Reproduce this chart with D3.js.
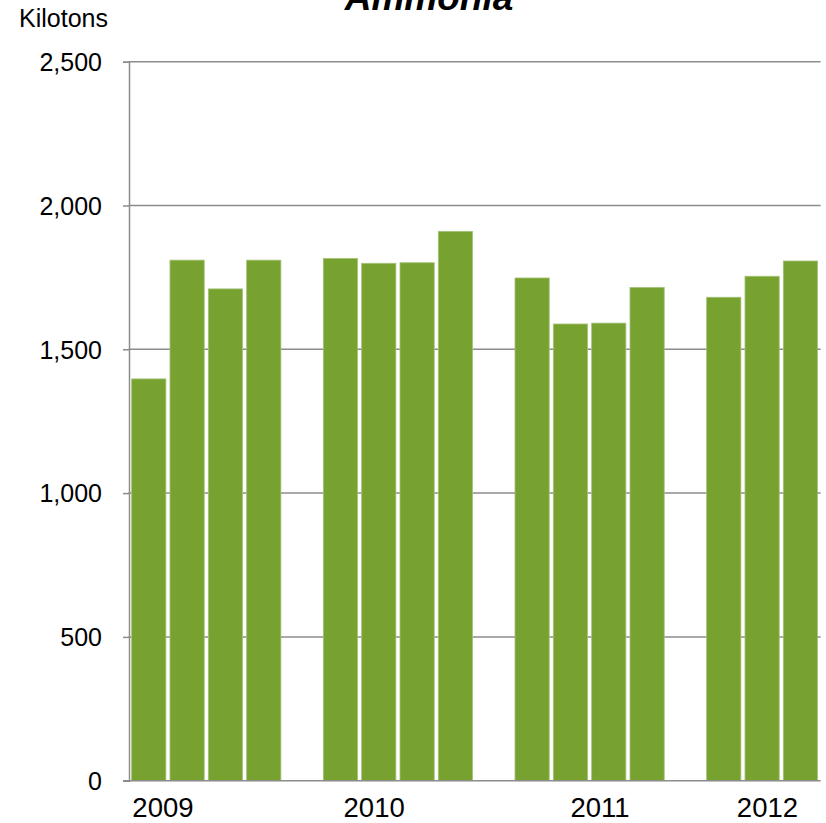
<!DOCTYPE html>
<html>
<head>
<meta charset="utf-8">
<script src="https://cdn.jsdelivr.net/npm/d3@7/dist/d3.min.js"></script>
<style>
  html, body { margin: 0; padding: 0; background: #fff; }
  svg { display: block; font-family: "Liberation Sans", Arial, sans-serif; }
</style>
</head>
<body>
<svg id="chart" width="826" height="823"></svg>
<script>
// Quarterly ammonia production, kilotons. Empty slots separate the years.
const categories = [
  "2009 Q1", "2009 Q2", "2009 Q3", "2009 Q4", "gap 1",
  "2010 Q1", "2010 Q2", "2010 Q3", "2010 Q4", "gap 2",
  "2011 Q1", "2011 Q2", "2011 Q3", "2011 Q4", "gap 3",
  "2012 Q1", "2012 Q2", "2012 Q3"
];
const values = [
  1397, 1810, 1710, 1810, null,
  1816, 1799, 1801, 1910, null,
  1748, 1588, 1591, 1715, null,
  1681, 1754, 1807
];
const yearLabels = ["2009", "2010", "2011", "2012"];
const yTicks = [0, 500, 1000, 1500, 2000, 2500];
const title = "Ammonia";
const unitLabel = "Kilotons";

// Layout
const plot = { left: 129.6, right: 819.6, top: 61.7, bottom: 780.7 };
// Where each year label sits, in category slots from the left of the plot
const yearLabelSlots = [0.87, 6.38, 12.27, 16.64];
const barFill = "#78a22f";
const barEdge = "#a3c27a";
const gridColor = "#8c8c8c";

const svg = d3.select("#chart");

const x = d3.scaleBand()
  .domain(categories)
  .range([plot.left, plot.right])
  .paddingInner(0.107)
  .paddingOuter(0.0535);

const y = d3.scaleLinear()
  .domain([0, 2500])
  .range([plot.bottom, plot.top]);

// Horizontal gridlines
svg.append("g")
  .selectAll("line")
  .data(yTicks.filter(d => d > 0))
  .join("line")
  .attr("x1", plot.left - 1)
  .attr("x2", plot.right + 1)
  .attr("y1", d => y(d))
  .attr("y2", d => y(d))
  .attr("stroke", gridColor)
  .attr("stroke-width", 1.5);

// Bars
const rows = categories.map((c, i) => ({ c, v: values[i] })).filter(d => d.v != null);
svg.append("g")
  .selectAll("rect")
  .data(rows)
  .join("rect")
  .attr("x", d => x(d.c))
  .attr("y", d => y(d.v))
  .attr("width", x.bandwidth())
  .attr("height", d => y(0) - y(d.v))
  .attr("fill", barFill)
  .attr("stroke", barEdge)
  .attr("stroke-width", 0.8);

// Y axis
const yAxis = d3.axisLeft(y)
  .tickValues(yTicks)
  .tickFormat(d3.format(","))
  .tickSize(6)
  .tickPadding(21);
const yg = svg.append("g")
  .attr("transform", `translate(${plot.left - 0.6},0)`)
  .call(yAxis);
yg.select(".domain").attr("stroke", gridColor).attr("stroke-width", 1.5);
yg.selectAll(".tick line").attr("stroke", gridColor).attr("stroke-width", 1.5);
yg.selectAll(".tick text")
  .attr("fill", "#000")
  .style("font-size", "25px")
  .attr("dy", "0.35em");

// X baseline
svg.append("line")
  .attr("x1", plot.left - 6)
  .attr("x2", plot.right + 1)
  .attr("y1", y(0))
  .attr("y2", y(0))
  .attr("stroke", gridColor)
  .attr("stroke-width", 1.5);

// Year labels
svg.append("g")
  .selectAll("text")
  .data(yearLabels)
  .join("text")
  .attr("x", (d, i) => plot.left + yearLabelSlots[i] * x.step())
  .attr("y", 817)
  .attr("text-anchor", "middle")
  .style("font-size", "27.5px")
  .attr("fill", "#000")
  .text(d => d);

// Unit label
svg.append("text")
  .attr("x", 19)
  .attr("y", 26.5)
  .style("font-size", "25px")
  .attr("fill", "#000")
  .text(unitLabel);

// Title (sits partly above the top edge)
svg.append("text")
  .attr("x", 429)
  .attr("y", 9.5)
  .attr("text-anchor", "middle")
  .style("font-size", "37px")
  .style("font-weight", "bold")
  .style("font-style", "italic")
  .attr("fill", "#000")
  .text(title);
</script>
</body>
</html>
